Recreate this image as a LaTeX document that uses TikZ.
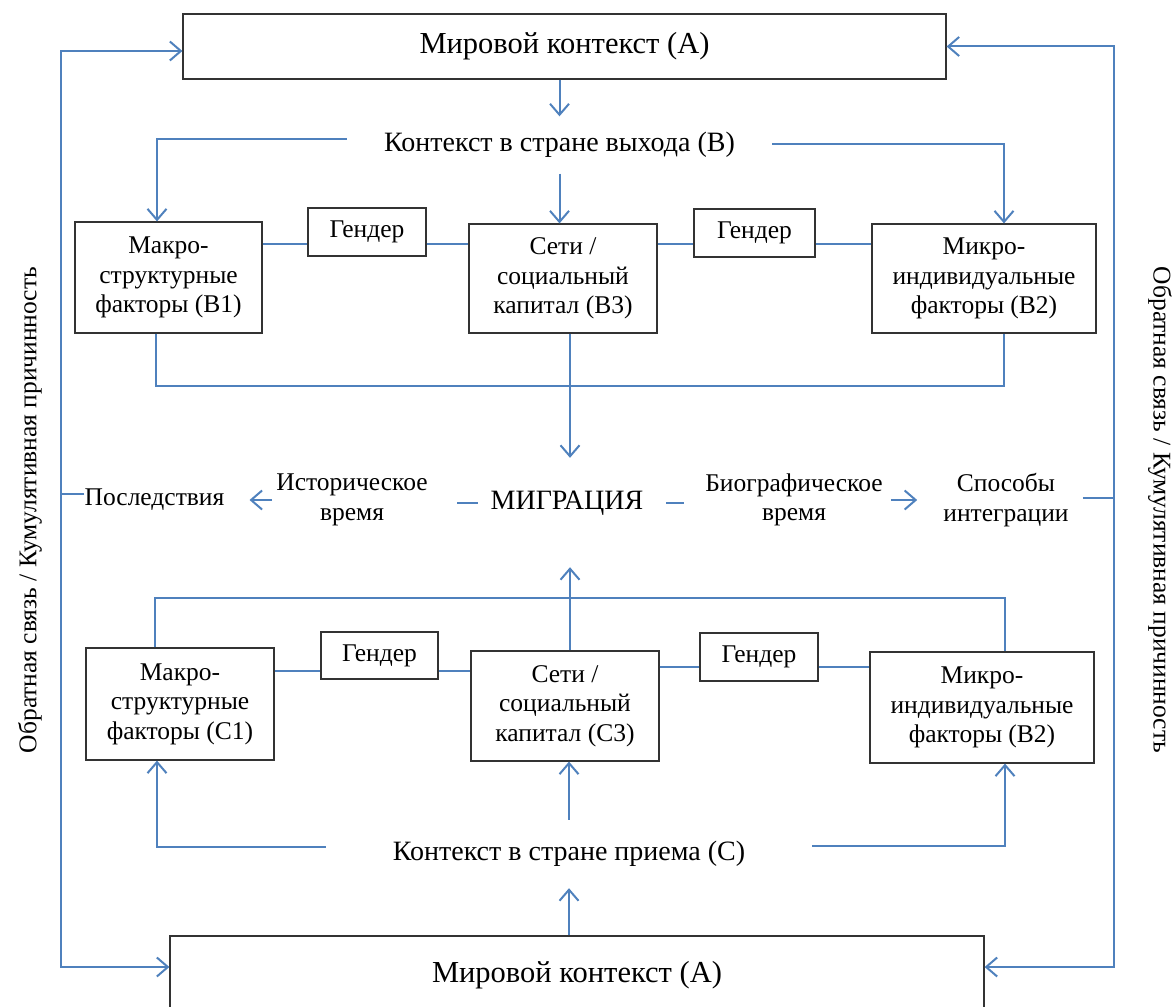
\documentclass[tikz,border=0pt]{standalone}
\usepackage{fontspec}
\setmainfont{Liberation Serif}
\usetikzlibrary{arrows.meta}
\definecolor{lblue}{HTML}{4F81BD}
\begin{document}
\begin{tikzpicture}[x=1pt,y=-1pt,
  line/.style={draw=lblue, line width=2pt},
  arr/.style={line, -{Straight Barb[length=11pt,width=19pt]}},
  arrtwo/.style={line, {Straight Barb[length=11pt,width=19pt]}-{Straight Barb[length=11pt,width=19pt]}},
  txt/.style={align=center, inner sep=0pt, font=\fontsize{25.5}{29.5}\selectfont},
  midtxt/.style={txt, font=\fontsize{28}{32}\selectfont},
  box/.style={txt, draw=black!80, line width=1.2pt},
  bigbox/.style={box, font=\fontsize{30.5}{34}\selectfont}
]
\useasboundingbox (0,0) rectangle (1174,1006);
\clip (0,0) rectangle (1174,1006);

% world context boxes
\node[bigbox, minimum width=763, minimum height=65] (A1) at (564.5,46.5) {Мировой контекст (A)};
\node[bigbox, minimum width=814, minimum height=78] (A2) at (577,975) {Мировой контекст (A)};

% country of exit
\node[midtxt, minimum width=425, minimum height=57] (B) at (559.5,145) {Контекст в стране выхода (B)};
\node[box, minimum width=187, minimum height=111] (B1) at (168.5,277.5) {Макро-\\структурные\\факторы (B1)};
\node[box, minimum width=118, minimum height=48] (G1) at (367,232) {Гендер};
\node[box, minimum width=188, minimum height=109] (B3) at (563,278.5) {Сети /\\социальный\\капитал (B3)};
\node[box, minimum width=121, minimum height=48] (G2) at (754.5,233) {Гендер};
\node[box, minimum width=224, minimum height=109] (B2) at (984,278.5) {Микро-\\индивидуальные\\факторы (B2)};

% migration row
\node[txt] (Pos) at (154.5,500) {Последствия};
\node[txt] (H) at (352,500) {Историческое\\время};
\node[midtxt, minimum width=178, minimum height=90] (M) at (567,503) {МИГРАЦИЯ};
\node[txt] (Bio) at (794,500) {Биографическое\\время};
\node[txt] (Sp) at (1006,500) {Способы\\интеграции};

% country of reception
\node[box, minimum width=188, minimum height=112] (C1) at (180,704) {Макро-\\структурные\\факторы (C1)};
\node[box, minimum width=117, minimum height=47] (G3) at (379.5,655.5) {Гендер};
\node[box, minimum width=188, minimum height=110] (C3) at (565,706) {Сети /\\социальный\\капитал (C3)};
\node[box, minimum width=118, minimum height=48] (G4) at (759,657) {Гендер};
\node[box, minimum width=224, minimum height=111] (C2) at (982,707.5) {Микро-\\индивидуальные\\факторы (B2)};
\node[midtxt, minimum width=486, minimum height=68] (C) at (569,854) {Контекст в стране приема (C)};

% side labels
\node[txt, rotate=90] (FL) at (30,510) {Обратная связь / Кумулятивная причинность};
\node[txt, rotate=-90] (FR) at (1160,510) {Обратная связь / Кумулятивная причинность};

% feedback loops
\coordinate (fbl) at (61,500);
\coordinate (fbr) at (1114,500);
\draw[arrtwo] ([yshift=8pt]A2.west) -| (fbl) |- ([yshift=-4.5pt]A1.west);
\draw[arrtwo] ([yshift=8pt]A2.east) -| (fbr) |- (A1.east);
\draw[line] ([yshift=6pt]Pos.west) -- ([yshift=6pt]Pos.west -| fbl);
\draw[line, shorten <=14pt] ([yshift=2pt]Sp.east) -- ([yshift=2pt]Sp.east -| fbr);

% top part
\draw[arr] (A1.south -| B.north) -- (B.north);
\draw[arr] ([yshift=6pt]B.west) -| ([xshift=-11.5pt]B1.north);
\draw[arr] ([yshift=1pt]B.east) -| ([xshift=20pt]B2.north);
\draw[arr] (B.south) -- (B.south |- B3.north);

\coordinate (g1) at ([yshift=-12pt]G1.west);
\coordinate (g1r) at ([yshift=-12pt]G1.east);
\draw[line] (B1.east |- g1) -- (g1);
\draw[line] (g1r) -- (B3.west |- g1r);
\coordinate (g2) at ([yshift=-11pt]G2.west);
\coordinate (g2r) at ([yshift=-11pt]G2.east);
\draw[line] (B3.east |- g2) -- (g2);
\draw[line] (g2r) -- (B2.west |- g2r);

\coordinate (mn) at ([xshift=3pt]M.north);
\coordinate (ms) at ([xshift=3pt]M.south);
\draw[line] ([xshift=-12.5pt]B1.south) -- ++(0,52) -| ([xshift=20pt]B2.south);
\draw[arr] (B3.south -| mn) -- (mn);

% migration row connectors
\draw[line, shorten >=29pt] (M.west) -- (M.west -| H.east);
\draw[arr, shorten <=4pt, shorten >=25pt] (H.west) -- (H.west -| Pos.east);
\draw[line, shorten <=10pt, shorten >=21pt] (M.east) -- (M.east -| Bio.west);
\draw[arr, shorten <=8pt, shorten >=26pt] (Bio.east) -- (Bio.east -| Sp.west);

% lower part
\draw[line] ([xshift=-25pt]C1.north) -- ++(0,-49) -| ([xshift=23pt]C2.north);
\draw[arr, shorten >=19pt] (C3.north -| ms) -- (ms);

\coordinate (g3) at ([yshift=-15.5pt]G3.west);
\coordinate (g3r) at ([yshift=-15.5pt]G3.east);
\draw[line] (C1.east |- g3) -- (g3);
\draw[line] (g3r) -- (C3.west |- g3r);
\coordinate (g4) at ([yshift=-10pt]G4.west);
\coordinate (g4r) at ([yshift=-10pt]G4.east);
\draw[line] (C3.east |- g4) -- (g4);
\draw[line] (g4r) -- (C2.west |- g4r);

\draw[arr] ([yshift=7pt]C.west) -| ([xshift=-23pt]C1.south);
\draw[arr] ([yshift=8pt]C.east) -| ([xshift=23pt]C2.south);
\draw[arr] (C.north) -- (C.north |- C3.south);
\draw[arr] (C.south |- A2.north) -- (C.south);
\end{tikzpicture}
\end{document}
